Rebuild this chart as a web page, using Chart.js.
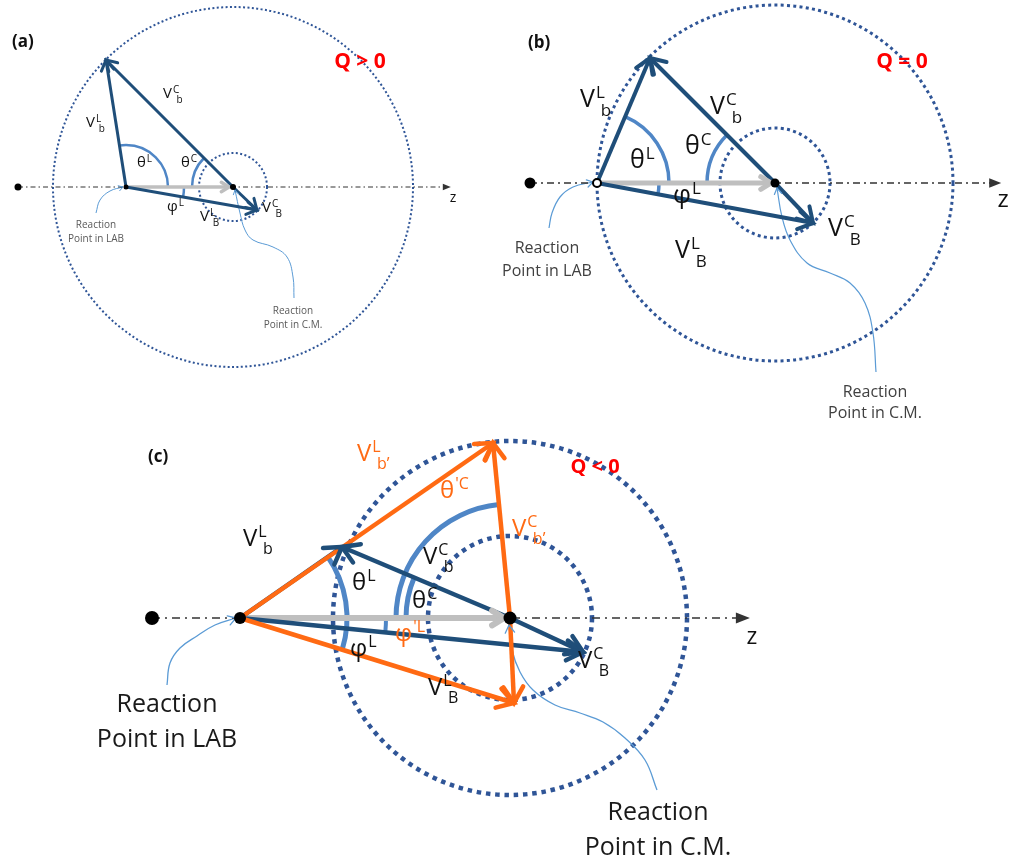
<!DOCTYPE html>
<html>
<head>
<meta charset="utf-8">
<script src="https://cdn.jsdelivr.net/npm/chart.js@4.4.1/dist/chart.umd.min.js"></script>
<style>
  html, body { margin: 0; padding: 0; background: #ffffff; }
  #wrap { width: 1019px; height: 867px; }
</style>
</head>
<body>
<div id="wrap"><canvas id="kin" width="1019" height="867"></canvas></div>
<script>
// Velocity diagrams of a two-body reaction for Q > 0, Q = 0 and Q < 0.
// Coordinates are in drawing units, x to the right and y downward.
const panelTags = ['(a)', '(b)', '(c)'];
const qLabels = ['Q > 0', 'Q = 0', 'Q < 0'];
const beamStarts = [[18, 187], [530, 183], [152, 618]];
const labPoints = [[126, 187], [597, 183], [240, 618]];
const cmPoints = [[233, 187], [775, 183], [510, 618]];
const zAxisEnds = [[448, 187], [997, 183], [745, 618]];
const cmArrowEnds = [[229, 187], [771, 183], [504, 618]];
const outerRadii = [180, 178, 177];
const innerRadii = [34, 55, 82];
const lightTips = [[106, 60], [650, 58], [342, 547]];   // V^L_b and V^C_b meet here
const heavyTips = [[257, 210], [813, 223], [583, 652]]; // V^L_B and V^C_B meet here
const primedLightTip = [493, 443];   // V^L_b' and V^C_b' in (c)
const primedHeavyTip = [514, 703];   // V^L_B' and V^C_B' in (c)
const thetaLRadii = [42, 72, 107];
const thetaCRadii = [41, 68, 104];
const thetaPrimeCRadius = 114;
const phiLRadii = [58, 62, 146];

// thin leader lines from the captions to the reaction points
const labNotePaths = [
  [[96, 213], [100, 200], [110, 191], [123, 187]],
  [[549, 228], [552, 213], [560, 197], [573, 187], [593, 182]],
  [[167, 685], [170, 663], [180, 648], [197, 636], [215, 625], [236, 618]]
];
const cmNotePaths = [
  [[294, 298], [293, 277], [287, 257], [273, 247], [253, 240], [245, 230], [240, 213], [235, 190]],
  [[876, 372], [873, 333], [865, 303], [850, 283], [830, 273], [807, 263], [790, 240], [782, 217], [777, 188]],
  [[657, 790], [645, 760], [625, 738], [603, 722], [580, 713], [555, 705], [533, 690], [520, 672], [512, 650], [509, 625]]
];
const labCaption = ['Reaction', 'Point in LAB'];
const cmCaption = ['Reaction', 'Point in C.M.'];

// symbol labels: panel, base, superscript, subscript, colour
const symbolTexts = [
  [0, 'V', 'C', 'b', 'k'], [0, 'V', 'L', 'b', 'k'], [0, 'θ', 'L', '', 'k'], [0, 'θ', 'C', '', 'k'],
  [0, 'φ', 'L', '', 'k'], [0, 'V', 'L', 'B', 'k'], [0, 'V', 'C', 'B', 'k'],
  [1, 'V', 'L', 'b', 'k'], [1, 'V', 'C', 'b', 'k'], [1, 'θ', 'L', '', 'k'], [1, 'θ', 'C', '', 'k'],
  [1, 'φ', 'L', '', 'k'], [1, 'V', 'L', 'B', 'k'], [1, 'V', 'C', 'B', 'k'],
  [2, 'V', 'L', 'b', 'k'], [2, 'V', 'L', 'b’', 'o'], [2, 'θ', '\'C', '', 'o'], [2, 'V', 'C', 'b’', 'o'],
  [2, 'V', 'C', 'b', 'k'], [2, 'θ', 'C', '', 'k'], [2, 'θ', 'L', '', 'k'], [2, 'φ', 'L', '', 'k'],
  [2, 'φ', '\'L', '', 'o'], [2, 'V', 'L', 'B', 'k'], [2, 'V', 'C', 'B', 'k']
];
// left edge / vertical middle of each symbol label, same order as symbolTexts
const symbolSpots = [
  [163, 94], [86, 123], [137, 163], [181, 163], [167, 207], [200, 217], [262, 208],
  [580, 100], [710, 107], [630, 161], [685, 147], [673, 196], [675, 251], [828, 229],
  [243, 539], [357, 454], [440, 491], [512, 529], [423, 557], [412, 601], [352, 583], [350, 649],
  [395, 634], [428, 688], [578, 661]
];

// ---- styling ----
const DARK = '#1F4E79', ORANGE = '#FF6A13', ARC = '#4F86C6', DOTS = '#2F5597', GREY = '#BFBFBF';
const LEAD = '#5B9BD5', AXIS = '#333333';
const FONT = '"Open Sans", "Noto Sans", sans-serif';
const vecWidth = [3, 4, 4.5], vecHead = [12, 17, 19];
const greyWidth = [3.5, 5, 6], greyHead = [9, 12, 14];
const arcWidth = [2.5, 3.5, 5];
const ringWidth = [2, 3, 4.5], ringDash = [[2, 2.4], [3, 3.3], [4.5, 4.8]];
const axisWidth = [1, 1.3, 1.5], axisDash = [[5, 3, 1.5, 3], [7, 4, 2, 4], [8, 5, 2, 5]], axisHead = [8, 12, 14];
const leadWidth = [1, 1.2, 1.3], leadHead = [5, 7, 9];
const symSize = [15, 25, 24];
const tagSpots = [[12, 42], [528, 43], [148, 457]];
const qSpots = [[360, 62], [902, 62], [595, 467]];
const zSpots = [[453, 198], [1003, 200], [752, 637]], zSize = [14, 24, 23];
const capSize = [10, 16, 25], capColour = ['#595959', '#404040', '#1a1a1a'];
const labCapSpots = [[96, 225, 239], [547, 248, 271], [167, 705, 740]];
const cmCapSpots = [[293, 311, 325], [875, 392, 413], [658, 813, 848]];

const pt = v => ({ x: v[0], y: v[1] });
const datasets = [];
function addLine(points, style, arrow, order) {
  datasets.push(Object.assign({
    data: points.map(pt), showLine: true, pointRadius: 0, pointHoverRadius: 0,
    fill: false, order: order, arrow: arrow, borderCapStyle: 'butt'
  }, style));
}

for (let p = 0; p < 3; p++) {
  addLine(labNotePaths[p], { borderColor: LEAD, borderWidth: leadWidth[p], tension: 0.4 },
    { len: leadHead[p], open: true }, 7);
  addLine(cmNotePaths[p], { borderColor: LEAD, borderWidth: leadWidth[p], tension: 0.4 },
    { len: leadHead[p], open: true }, 7);
  addLine([beamStarts[p], zAxisEnds[p]], { borderColor: AXIS, borderWidth: axisWidth[p], borderDash: axisDash[p] },
    { len: axisHead[p], open: false }, 6);
  addLine([labPoints[p], cmArrowEnds[p]], { borderColor: GREY, borderWidth: greyWidth[p] },
    { len: greyHead[p], open: true }, 5);
  const blue = { borderColor: DARK, borderWidth: vecWidth[p] };
  const head = { len: vecHead[p], open: true };
  addLine([labPoints[p], lightTips[p]], blue, head, 3);
  addLine([cmPoints[p], lightTips[p]], blue, head, 3);
  addLine([labPoints[p], heavyTips[p]], blue, head, 3);
  addLine([cmPoints[p], heavyTips[p]], blue, head, 3);
}
{
  const orange = { borderColor: ORANGE, borderWidth: 4.5 };
  const head = { len: 19, open: true };
  addLine([labPoints[2], primedLightTip], orange, head, 1);
  addLine([cmPoints[2], primedLightTip], orange, head, 1);
  addLine([labPoints[2], primedHeavyTip], orange, head, 1);
  addLine([cmPoints[2], primedHeavyTip], orange, head, 1);
}

const diagramPlugin = {
  id: 'diagram',
  beforeDatasetsDraw(chart) {
    const ctx = chart.ctx, sx = chart.scales.x, sy = chart.scales.y;
    const P = v => [sx.getPixelForValue(v[0]), sy.getPixelForValue(v[1])];
    const R = r => Math.abs(sx.getPixelForValue(r) - sx.getPixelForValue(0));
    const ang = (c, t) => { const a = P(c), b = P(t); return Math.atan2(b[1] - a[1], b[0] - a[0]); };
    const arc = (c, r, a1, a2, w) => {
      let d = a2 - a1;
      while (d > Math.PI) d -= 2 * Math.PI;
      while (d <= -Math.PI) d += 2 * Math.PI;
      const pc = P(c);
      ctx.beginPath();
      ctx.arc(pc[0], pc[1], R(r), a1, a1 + d, d < 0);
      ctx.lineWidth = w; ctx.strokeStyle = ARC; ctx.setLineDash([]); ctx.lineCap = 'butt';
      ctx.stroke();
    };
    ctx.save();
    // dotted rings around the C.M. point
    for (let p = 0; p < 3; p++) {
      const c = P(cmPoints[p]);
      ctx.strokeStyle = DOTS; ctx.lineWidth = ringWidth[p]; ctx.setLineDash(ringDash[p]); ctx.lineCap = 'butt';
      [outerRadii[p], innerRadii[p]].forEach(r => {
        ctx.beginPath(); ctx.arc(c[0], c[1], R(r), 0, 2 * Math.PI); ctx.stroke();
      });
    }
    // angle arcs
    for (let p = 0; p < 2; p++) {
      arc(labPoints[p], thetaLRadii[p], 0, ang(labPoints[p], lightTips[p]), arcWidth[p]);
      arc(cmPoints[p], thetaCRadii[p], Math.PI, ang(cmPoints[p], lightTips[p]), arcWidth[p]);
      arc(labPoints[p], phiLRadii[p], 0, ang(labPoints[p], heavyTips[p]), arcWidth[p]);
    }
    arc(labPoints[2], thetaLRadii[2], ang(labPoints[2], lightTips[2]), ang(labPoints[2], primedHeavyTip), 5);
    arc(cmPoints[2], thetaCRadii[2], Math.PI, ang(cmPoints[2], lightTips[2]), 5);
    arc(cmPoints[2], thetaPrimeCRadius, Math.PI, ang(cmPoints[2], primedLightTip), 5);
    arc(labPoints[2], phiLRadii[2], 0, ang(labPoints[2], heavyTips[2]), 4);
    ctx.restore();
  },
  afterDatasetsDraw(chart) {
    const ctx = chart.ctx, sx = chart.scales.x, sy = chart.scales.y;
    const P = v => [sx.getPixelForValue(v[0]), sy.getPixelForValue(v[1])];
    ctx.save();
    ctx.setLineDash([]);
    // arrow heads taken from the last two drawn points of each line
    chart.data.datasets.forEach((ds, i) => {
      if (!ds.arrow) return;
      const pts = chart.getDatasetMeta(i).data;
      const a = pts[pts.length - 2], b = pts[pts.length - 1];
      const th = Math.atan2(b.y - a.y, b.x - a.x);
      const L = ds.arrow.len, spread = 0.55;
      const l = [b.x - L * Math.cos(th - spread), b.y - L * Math.sin(th - spread)];
      const r = [b.x - L * Math.cos(th + spread), b.y - L * Math.sin(th + spread)];
      ctx.strokeStyle = ds.borderColor; ctx.fillStyle = ds.borderColor;
      ctx.beginPath(); ctx.moveTo(l[0], l[1]); ctx.lineTo(b.x, b.y); ctx.lineTo(r[0], r[1]);
      if (ds.arrow.open) {
        ctx.lineWidth = ds.borderWidth; ctx.lineJoin = 'miter'; ctx.lineCap = 'round'; ctx.stroke();
      } else {
        const tip = [b.x + L * 0.35 * Math.cos(th), b.y + L * 0.35 * Math.sin(th)];
        ctx.beginPath();
        ctx.moveTo(tip[0], tip[1]);
        ctx.lineTo(b.x - L * 0.65 * Math.cos(th) + L * 0.4 * Math.sin(th), b.y - L * 0.65 * Math.sin(th) - L * 0.4 * Math.cos(th));
        ctx.lineTo(b.x - L * 0.65 * Math.cos(th) - L * 0.4 * Math.sin(th), b.y - L * 0.65 * Math.sin(th) + L * 0.4 * Math.cos(th));
        ctx.closePath(); ctx.fill();
      }
    });
    // points on the beam axis
    const dot = (v, r, hollow) => {
      const c = P(v);
      ctx.beginPath(); ctx.arc(c[0], c[1], r, 0, 2 * Math.PI);
      if (hollow) { ctx.fillStyle = '#fff'; ctx.fill(); ctx.lineWidth = 2; ctx.strokeStyle = '#000'; ctx.stroke(); }
      else { ctx.fillStyle = '#000'; ctx.fill(); }
    };
    [3.5, 5.5, 7].forEach((r, p) => dot(beamStarts[p], r, false));
    dot(labPoints[0], 2.5, false); dot(labPoints[1], 4, true); dot(labPoints[2], 6, false);
    [3, 4.5, 6.5].forEach((r, p) => dot(cmPoints[p], r, false));

    // text
    ctx.textBaseline = 'middle';
    const txt = (s, v, font, colour, align) => {
      const c = P(v); ctx.font = font; ctx.fillStyle = colour; ctx.textAlign = align || 'left';
      ctx.fillText(s, c[0], c[1]);
    };
    for (let p = 0; p < 3; p++) {
      txt(panelTags[p], tagSpots[p], 'bold 17px ' + FONT, '#111');
      txt(qLabels[p], qSpots[p], 'bold ' + (p === 2 ? 20 : 21) + 'px ' + FONT, '#FF0000', 'center');
      txt('z', zSpots[p], zSize[p] + 'px ' + FONT, '#111', 'center');
      const cf = capSize[p] + 'px ' + FONT;
      txt(labCaption[0], [labCapSpots[p][0], labCapSpots[p][1]], cf, capColour[p], 'center');
      txt(labCaption[1], [labCapSpots[p][0], labCapSpots[p][2]], cf, capColour[p], 'center');
      txt(cmCaption[0], [cmCapSpots[p][0], cmCapSpots[p][1]], cf, capColour[p], 'center');
      txt(cmCaption[1], [cmCapSpots[p][0], cmCapSpots[p][2]], cf, capColour[p], 'center');
    }
    symbolTexts.forEach((s, i) => {
      const [p, base, sup, sub, col] = s;
      const size = symSize[p], small = Math.round(size * 0.68);
      const colour = col === 'o' ? ORANGE : '#111';
      const c = P(symbolSpots[i]);
      ctx.textAlign = 'left'; ctx.fillStyle = colour;
      ctx.font = size + 'px ' + FONT;
      ctx.fillText(base, c[0], c[1]);
      const bw = ctx.measureText(base).width;
      ctx.font = small + 'px ' + FONT;
      const sw = ctx.measureText(sup).width;
      ctx.fillText(sup, c[0] + bw + 1, c[1] - size * 0.27);
      if (sub) ctx.fillText(sub, c[0] + bw + 1 + sw * 0.55, c[1] + size * 0.44);
    });
    ctx.restore();
  }
};

new Chart(document.getElementById('kin'), {
  type: 'scatter',
  data: { datasets: datasets },
  options: {
    responsive: false,
    animation: false,
    events: [],
    layout: { padding: 0 },
    scales: {
      x: { type: 'linear', min: 0, max: 1019, display: false },
      y: { type: 'linear', min: 0, max: 867, reverse: true, display: false }
    },
    plugins: { legend: { display: false }, tooltip: { enabled: false } },
    elements: { line: { borderJoinStyle: 'round' } }
  },
  plugins: [diagramPlugin]
});
</script>
</body>
</html>
